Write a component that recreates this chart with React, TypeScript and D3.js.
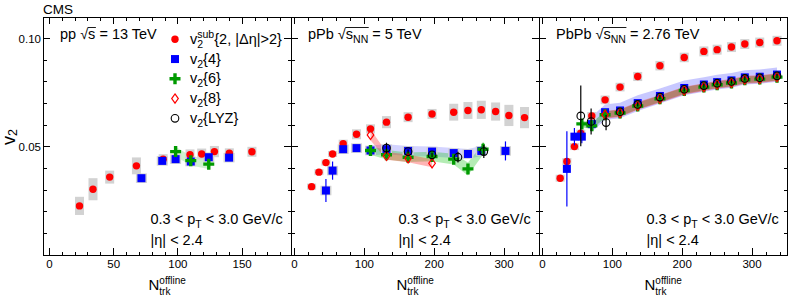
import React, { useLayoutEffect, useRef, useState } from 'react';
import * as d3 from 'd3';

// ---------- pp 13 TeV ----------
const ppSubN = [23.4, 33.9, 46.9, 67.7, 88.5, 109.4, 118.5, 128.4, 140, 157.6];
const ppSubV = [0.0227, 0.0304, 0.036, 0.0412, 0.0443, 0.0463, 0.0467, 0.0478, 0.047, 0.0477];
const ppSubSys = [0.0042, 0.0051, 0.003, 0.0039, 0.0023, 0.0025, 0.0025, 0.0026, 0.0023, 0.0023];
const ppC4N = [71.6, 87.8, 98.2, 110, 124, 139.8];
const ppC4V = [0.0355, 0.0435, 0.0443, 0.0432, 0.0452, 0.045];
const ppC4Stat = [0.001, 0.001, 0.001, 0.0013, 0.001, 0.001];
const ppC4Sys = [0.0022, 0.0022, 0.0022, 0.0022, 0.0022, 0.0022];
const ppC6N = [98.2, 110, 124];
const ppC6V = [0.0478, 0.0436, 0.042];
const ppC6Stat = [0.001, 0.0013, 0.0015];
const ppC6Band = [0.0022, 0.0022, 0.0022];

// ---------- pPb 5 TeV ----------
const pPbSubN = [24.5, 35, 45, 54.5, 69.7, 88.8, 108.8, 131.7, 162.6, 196.9, 227.9, 248.3, 267.4, 287.9, 306.9, 329.3];
const pPbSubV = [0.0316, 0.0383, 0.0427, 0.0467, 0.0514, 0.0558, 0.0583, 0.0614, 0.0637, 0.0652, 0.066, 0.0668, 0.0671, 0.0663, 0.0645, 0.0635];
const pPbSubSys = [0.0014, 0.0014, 0.0014, 0.0014, 0.0019, 0.0023, 0.0021, 0.0028, 0.0023, 0.0023, 0.0039, 0.0039, 0.0042, 0.0042, 0.0049, 0.0049];
const pPbC4N = [45, 54.5, 69.7, 88.8, 108.8, 131.7, 162.6, 196.9, 227.9, 248.3, 267.4, 302];
const pPbC4V = [0.0298, 0.039, 0.0489, 0.0494, 0.0483, 0.0489, 0.0481, 0.0478, 0.0471, 0.0467, 0.0481, 0.0481];
const pPbC4Stat = [0.0053, 0.0042, 0.0008, 0.0008, 0.001, 0.001, 0.001, 0.001, 0.0012, 0.0015, 0.002, 0.0044];
const pPbC4Sys = [0.0022, 0.0022, 0.0022, 0.0022, 0.0022, 0.0022, 0.0022, 0.0022, 0.0022, 0.0022, 0.0022, 0.0022];
const pPbC4Band = [0, 0, 0, 0, 0.0023, 0.0023, 0.0023, 0.0023, 0.0023, 0.0023, 0.0023, 0];
const pPbC6N = [108.8, 131.7, 162.6, 196.9, 227.9, 248.3, 270];
const pPbC6V = [0.0483, 0.0463, 0.0452, 0.0455, 0.0443, 0.0398, 0.0489];
const pPbC6Stat = [0.001, 0.001, 0.001, 0.001, 0.0015, 0.002, 0.003];
const pPbC6Band = [0.002, 0.0022, 0.0022, 0.0022, 0.0025, 0.003, 0.0025];
const pPbC8N = [108.8, 131.7, 162.6, 196.9];
const pPbC8V = [0.0555, 0.0458, 0.0447, 0.0424];
const pPbC8Band = [0.0025, 0.0018, 0.0018, 0.0018];
const pPbLyzN = [131.7, 162.6, 196.9, 234, 271];
const pPbLyzV = [0.0494, 0.0478, 0.0463, 0.0452, 0.0478];
const pPbLyzStat = [0.0025, 0.001, 0.001, 0.0025, 0.003];

// ---------- PbPb 2.76 TeV ----------
const PbSubN = [25.3, 34.9, 45.7, 54.8, 70.6, 89.6, 111, 136.3, 168.1, 202.9, 231, 250, 270.5, 289.6, 311, 335.7];
const PbSubV = [0.0355, 0.0432, 0.0501, 0.0563, 0.0643, 0.0717, 0.0776, 0.0825, 0.0875, 0.0913, 0.0941, 0.0949, 0.0961, 0.0975, 0.0982, 0.099];
const PbSubSys = [0.0016, 0.0016, 0.0016, 0.0016, 0.0018, 0.002, 0.002, 0.0021, 0.0022, 0.0022, 0.0023, 0.0023, 0.0023, 0.0023, 0.0023, 0.0023];
const PbC4N = [34.9, 45.7, 56.3, 70.6, 89.6, 111, 136.3, 168.1, 202.9, 231, 250, 270.5, 289.6, 311, 335.7];
const PbC4V = [0.0398, 0.0547, 0.0547, 0.0605, 0.066, 0.0668, 0.0702, 0.0735, 0.0772, 0.0788, 0.0799, 0.0807, 0.0821, 0.0824, 0.0834];
const PbC4Stat = [0.0174, 0.004, 0.003, 0.002, 0.001, 0.0008, 0.0008, 0.0008, 0.0008, 0.0008, 0.0008, 0.0008, 0.0008, 0.0008, 0.0008];
const PbC4Band = [0, 0, 0, 0.0035, 0.0036, 0.0036, 0.0036, 0.0035, 0.0034, 0.0034, 0.0034, 0.0034, 0.0033, 0.0033, 0.0033];
const PbC6N = [56.3, 70.6, 89.6, 111, 136.3, 168.1, 202.9, 231, 250, 270.5, 289.6, 311, 335.7];
const PbC6V = [0.0606, 0.0597, 0.0648, 0.0656, 0.0689, 0.0722, 0.076, 0.0776, 0.0787, 0.0795, 0.081, 0.0813, 0.0822];
const PbC6Band = [0.0015, 0.0015, 0.0015, 0.0015, 0.0015, 0.0015, 0.0015, 0.0015, 0.0015, 0.0015, 0.0015, 0.0015, 0.0015];
const PbC8N = [89.6, 111, 136.3, 168.1, 202.9, 231, 250, 270.5, 289.6, 311, 335.7];
const PbC8V = [0.0648, 0.0656, 0.0689, 0.0722, 0.076, 0.0776, 0.0787, 0.0795, 0.081, 0.0813, 0.0822];
const PbC8Band = [0.0018, 0.0018, 0.0018, 0.0018, 0.0018, 0.0018, 0.0018, 0.0018, 0.0018, 0.0018, 0.0018];
const PbLyzN = [54.8, 69.6, 91, 111, 136.3, 168.1, 202.9, 231, 250, 270.5, 289.6, 311, 335.7];
const PbLyzV = [0.0643, 0.0617, 0.0612, 0.0662, 0.0696, 0.073, 0.0766, 0.0783, 0.0794, 0.0802, 0.0816, 0.0819, 0.0828];
const PbLyzStat = [0.014, 0.006, 0.0035, 0.001, 0.001, 0.001, 0.001, 0.001, 0.001, 0.001, 0.001, 0.001, 0.001];

// axis ticks / labels
const yMajorTicks = [0, 0.05, 0.1];
const yTickLabels = ['0.10', '0.05'];
const ppXTicks = [0, 50, 100, 150];
const AAXTicks = [0, 100, 200, 300];

const LEGEND = [
  { kind: 'sub', sup: 'sub', rest: '{2, |\u0394\u03b7|>2}' },
  { kind: 'c4', sup: '', rest: '{4}' },
  { kind: 'c6', sup: '', rest: '{6}' },
  { kind: 'c8', sup: '', rest: '{8}' },
  { kind: 'lyz', sup: '', rest: '{LYZ}' },
];

const FONT = '"Liberation Sans", Arial, Helvetica, sans-serif';
const TOP = 17, BOTTOM = 255, PW = 248;
const RED = '#ff0000', BLUE = '#0000ff', GREEN = '#009a00';
const GRAY = '#d2d2d2';

const y = d3.scaleLinear().domain([0, 0.11]).range([BOTTOM, TOP]);

type Kind = 'sub' | 'c4' | 'c6' | 'c8' | 'lyz';
type Pts = { kind: Kind; n: number[]; v: number[]; stat?: number[] };
type Band = { n: number[]; v: number[]; e: number[]; fill: string };
type Boxes = { n: number[]; v: number[]; e: number[]; w: number; fill: string };

interface PanelCfg {
  left: number;
  domain: [number, number];
  ticks: number[];
  minor: number;
  head: { pre: string; sub: string; post: string };
  bands: Band[];
  boxes: Boxes[];
  pts: Pts[];
}

const COLOR: Record<Kind, string> = { sub: RED, c4: BLUE, c6: GREEN, c8: RED, lyz: '#000' };

function Marker({ kind, x, y }: { kind: Kind; x: number; y: number }) {
  if (kind === 'sub') return <circle cx={x} cy={y} r={3.7} fill={RED} />;
  if (kind === 'c4') return <rect x={x - 4} y={y - 4} width={8} height={8} fill={BLUE} />;
  if (kind === 'c6') {
    const a = 5.5, b = 1.7;
    return (
      <path
        d={`M${x - b},${y - a}H${x + b}V${y - b}H${x + a}V${y + b}H${x + b}V${y + a}H${x - b}V${y + b}H${x - a}V${y - b}H${x - b}Z`}
        fill={GREEN}
      />
    );
  }
  if (kind === 'c8')
    return (
      <path
        d={`M${x},${y - 4.6}L${x + 3.3},${y}L${x},${y + 4.6}L${x - 3.3},${y}Z`}
        fill="none"
        stroke={RED}
        strokeWidth={1.2}
      />
    );
  return <circle cx={x} cy={y} r={3.8} fill="none" stroke="#000" strokeWidth={1.1} />;
}

function SqrtText({ x, y, pre, sub, post }: { x: number; y: number; pre: string; sub: string; post: string }) {
  const ref = useRef<SVGTextElement>(null);
  const [bar, setBar] = useState<number[] | null>(null);
  useLayoutEffect(() => {
    const t = ref.current;
    if (!t) return;
    const i0 = pre.length;
    const i1 = i0 + sub.length;
    const a = t.getStartPositionOfChar(i0).x;
    const b = t.getEndPositionOfChar(i1).x;
    setBar([a - 0.5, b + 0.5]);
  }, [pre, sub]);
  return (
    <g>
      <text ref={ref} x={x} y={y} fontSize={14.5}>
        {pre + 's'}
        {sub ? <tspan dy={4} fontSize={10.5}>{sub}</tspan> : null}
        <tspan dy={sub ? -4 : 0}>{post}</tspan>
      </text>
      {bar && <line x1={bar[0]} x2={bar[1]} y1={y - 11.5} y2={y - 11.5} stroke="#000" strokeWidth={0.9} />}
    </g>
  );
}

function V2Label({ x, y, sup, rest }: { x: number; y: number; sup: string; rest: string }) {
  return (
    <text x={x} y={y} fontSize={14.5}>
      v
      <tspan dy={4} fontSize={10.5}>2</tspan>
      {sup ? <tspan dx={-5.8} dy={-10} fontSize={10.5}>{sup}</tspan> : null}
      <tspan dy={sup ? 6 : -4}>{rest}</tspan>
    </text>
  );
}

function Panel({ cfg, idx }: { cfg: PanelCfg; idx: number }) {
  const x = d3.scaleLinear().domain(cfg.domain).range([cfg.left, cfg.left + PW]);
  const right = cfg.left + PW;
  const minorX = d3.range(0, cfg.domain[1], cfg.minor);
  const minorY = d3.range(0, 0.1101, 0.01);
  const bandPath = (b: Band) => {
    const idxs = d3.range(b.n.length).filter(i => b.e[i] > 0);
    return d3
      .area<number>()
      .x(i => x(b.n[i]))
      .y0(i => y(b.v[i] - b.e[i]))
      .y1(i => y(b.v[i] + b.e[i]))(idxs) || '';
  };
  const clip = `clip${idx}`;
  const cx = cfg.left + PW / 2;
  return (
    <g>
      <defs>
        <clipPath id={clip}>
          <rect x={cfg.left} y={TOP} width={PW} height={BOTTOM - TOP} />
        </clipPath>
      </defs>
      <g clipPath={`url(#${clip})`}>
        {cfg.bands.map((b, i) => (
          <path key={i} d={bandPath(b)} fill={b.fill} />
        ))}
        {cfg.boxes.map((bx, i) =>
          bx.n.map((n, j) => (
            <rect
              key={`${i}-${j}`}
              x={x(n) - bx.w / 2}
              y={y(bx.v[j] + bx.e[j])}
              width={bx.w}
              height={y(bx.v[j] - bx.e[j]) - y(bx.v[j] + bx.e[j])}
              fill={bx.fill}
            />
          ))
        )}
        {cfg.pts.map((p, i) => (
          <g key={i}>
            {p.stat &&
              p.n.map((n, j) => (
                <line
                  key={j}
                  x1={x(n)}
                  x2={x(n)}
                  y1={y(p.v[j] - p.stat![j])}
                  y2={y(p.v[j] + p.stat![j])}
                  stroke={COLOR[p.kind]}
                  strokeWidth={1.2}
                />
              ))}
            {p.n.map((n, j) => (
              <Marker key={j} kind={p.kind} x={x(n)} y={y(p.v[j])} />
            ))}
          </g>
        ))}
      </g>
      {/* frame and ticks */}
      <g stroke="#000" strokeWidth={1} shapeRendering="crispEdges">
        <rect x={cfg.left} y={TOP} width={PW} height={BOTTOM - TOP} fill="none" />
        {minorX.map(t => {
          const len = cfg.ticks.includes(t) ? 7 : 3.5;
          return (
            <g key={t}>
              <line x1={x(t)} x2={x(t)} y1={BOTTOM} y2={BOTTOM - len} />
              <line x1={x(t)} x2={x(t)} y1={TOP} y2={TOP + len} />
            </g>
          );
        })}
        {minorY.map(t => {
          const len = yMajorTicks.some(m => Math.abs(m - t) < 1e-6) ? 7 : 3.5;
          return (
            <g key={t}>
              <line x1={cfg.left} x2={cfg.left + len} y1={y(t)} y2={y(t)} />
              <line x1={right} x2={right - len} y1={y(t)} y2={y(t)} />
            </g>
          );
        })}
      </g>
      {cfg.ticks.map(t => (
        <text key={t} x={x(t)} y={268} fontSize={11.5} textAnchor="middle">
          {t}
        </text>
      ))}
      {/* x title */}
      <text x={cx - 18.5} y={290} fontSize={15}>
        N
        <tspan dy={5} fontSize={10}>trk</tspan>
        <tspan dx={-11.1} dy={-11} fontSize={10}>offline</tspan>
      </text>
      <SqrtText x={cfg.left + 17} y={39} pre={cfg.head.pre} sub={cfg.head.sub} post={cfg.head.post} />
      <text x={cfg.left + 107.5} y={224} fontSize={14.5}>
        0.3 &lt; p
        <tspan dy={4} fontSize={10.5}>T</tspan>
        <tspan dy={-4}> &lt; 3.0 GeV/c</tspan>
      </text>
      <text x={cfg.left + 107.5} y={245} fontSize={14.5}>
        |η| &lt; 2.4
      </text>
    </g>
  );
}

const PANELS: PanelCfg[] = [
  {
    left: 43,
    domain: [-5, 188],
    ticks: ppXTicks,
    minor: 10,
    head: { pre: 'pp \u221a', sub: '', post: ' = 13 TeV' },
    bands: [{ n: ppC6N, v: ppC6V, e: ppC6Band, fill: 'rgba(60,200,60,0.25)' }],
    boxes: [
      { n: ppSubN, v: ppSubV, e: ppSubSys, w: 9, fill: GRAY },
      { n: ppC4N, v: ppC4V, e: ppC4Sys, w: 11, fill: GRAY },
    ],
    pts: [
      { kind: 'sub', n: ppSubN, v: ppSubV },
      { kind: 'c4', n: ppC4N, v: ppC4V, stat: ppC4Stat },
      { kind: 'c6', n: ppC6N, v: ppC6V, stat: ppC6Stat },
    ],
  },
  {
    left: 291,
    domain: [-5, 350],
    ticks: AAXTicks,
    minor: 20,
    head: { pre: 'pPb \u221a', sub: 'NN', post: ' = 5 TeV' },
    bands: [
      { n: pPbC4N, v: pPbC4V, e: pPbC4Band, fill: 'rgba(110,110,255,0.3)' },
      { n: pPbC6N, v: pPbC6V, e: pPbC6Band, fill: 'rgba(40,200,40,0.35)' },
      { n: pPbC8N, v: pPbC8V, e: pPbC8Band, fill: 'rgba(255,40,40,0.35)' },
    ],
    boxes: [
      { n: pPbSubN, v: pPbSubV, e: pPbSubSys, w: 9, fill: GRAY },
      { n: pPbC4N, v: pPbC4V, e: pPbC4Sys, w: 11, fill: GRAY },
    ],
    pts: [
      { kind: 'sub', n: pPbSubN, v: pPbSubV },
      { kind: 'c4', n: pPbC4N, v: pPbC4V, stat: pPbC4Stat },
      { kind: 'c6', n: pPbC6N, v: pPbC6V, stat: pPbC6Stat },
      { kind: 'c8', n: pPbC8N, v: pPbC8V },
      { kind: 'lyz', n: pPbLyzN, v: pPbLyzV, stat: pPbLyzStat },
    ],
  },
  {
    left: 539,
    domain: [-5, 350],
    ticks: AAXTicks,
    minor: 20,
    head: { pre: 'PbPb \u221a', sub: 'NN', post: ' = 2.76 TeV' },
    bands: [
      { n: PbC4N, v: PbC4V, e: PbC4Band, fill: 'rgba(110,110,255,0.38)' },
      { n: PbC6N, v: PbC6V, e: PbC6Band, fill: 'rgba(40,170,40,0.45)' },
      { n: PbC8N, v: PbC8V, e: PbC8Band, fill: 'rgba(255,40,40,0.4)' },
    ],
    boxes: [{ n: PbSubN, v: PbSubV, e: PbSubSys, w: 9, fill: GRAY }],
    pts: [
      { kind: 'sub', n: PbSubN, v: PbSubV },
      { kind: 'c4', n: PbC4N, v: PbC4V, stat: PbC4Stat },
      { kind: 'c6', n: PbC6N, v: PbC6V },
      { kind: 'c8', n: PbC8N, v: PbC8V },
      { kind: 'lyz', n: PbLyzN, v: PbLyzV, stat: PbLyzStat },
    ],
  },
];

export default function App() {
  const legendY = d3.scaleLinear().domain([0, 4]).range([39.3, 118.3]);
  return (
    <svg
      width={788}
      height={300}
      style={{ position: 'absolute', left: 0, top: 0 }}
      fontFamily={FONT}
    >
      <rect width={788} height={300} fill="#fff" />
      {PANELS.map((p, i) => (
        <Panel key={i} idx={i} cfg={p} />
      ))}
      {/* y axis labels */}
      {yTickLabels.map(l => (
        <text key={l} x={41} y={y(+l) + 4} fontSize={11.5} textAnchor="end">
          {l}
        </text>
      ))}
      <text transform="translate(15,145) rotate(-90)" fontSize={18}>
        v<tspan dy={2} fontSize={12.5}>2</tspan>
      </text>
      <text x={43} y={14} fontSize={13.5}>
        CMS
      </text>
      {/* legend */}
      {LEGEND.map((e, i) => (
        <g key={i}>
          <Marker kind={e.kind as Kind} x={175} y={legendY(i)} />
          <V2Label x={190} y={legendY(i) + 4.5} sup={e.sup} rest={e.rest} />
        </g>
      ))}
    </svg>
  );
}
